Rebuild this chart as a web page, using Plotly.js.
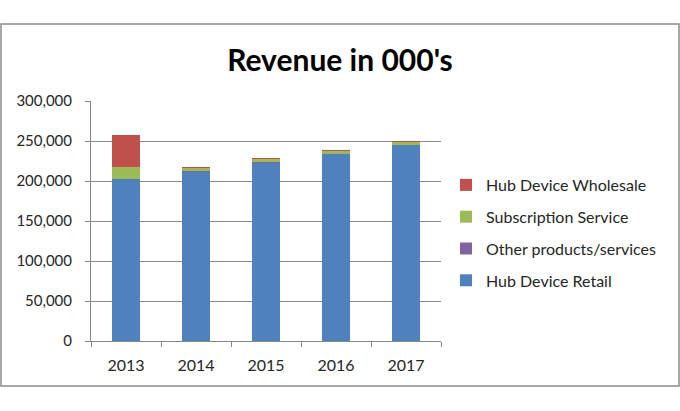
<!DOCTYPE html>
<html>
<head>
<meta charset="utf-8">
<script src="https://cdn.plot.ly/plotly-3.0.1.min.js"></script>
<style>
html,body{margin:0;padding:0;background:#fff;}
#chart{width:680px;height:411px;}
</style>
</head>
<body>
<div id="chart"></div>
<script>
const years = ['2013', '2014', '2015', '2016', '2017'];
const hubDeviceRetail = [202000, 211500, 223000, 233500, 245000];
const otherProducts = [500, 500, 500, 500, 500];
const subscriptionService = [15500, 4500, 4000, 4000, 3500];
const hubDeviceWholesale = [40000, 1500, 1500, 1000, 1000];
const seriesNames = ['Hub Device Retail', 'Other products/services', 'Subscription Service', 'Hub Device Wholesale'];
const seriesColors = ['#4F81BD', '#8064A2', '#9BBB59', '#C0504D'];
const seriesValues = [hubDeviceRetail, otherProducts, subscriptionService, hubDeviceWholesale];

const FONT = 'Lato, "Open Sans", sans-serif';

const traces = seriesValues.map((vals, i) => ({
  type: 'bar',
  x: years,
  y: vals,
  name: seriesNames[i],
  legendgroup: 'g' + i,
  legendrank: 1000 - i,
  marker: {color: seriesColors[i], line: {width: 0}},
  hoverinfo: 'skip'
}));

const L = 91, R = 441, T = 101, B = 341;
const px = v => (v - L) / (R - L);
const py = v => (B - v) / (B - T);

const layout = {
  width: 680,
  height: 411,
  margin: {l: L, r: 680 - R, t: T, b: 411 - B},
  paper_bgcolor: '#ffffff',
  plot_bgcolor: '#ffffff',
  barmode: 'stack',
  bargap: 0.6,
  font: {family: FONT, size: 14, color: '#262626'},
  title: {
    text: "Revenue in 000's",
    font: {family: FONT, size: 30, color: '#000000', weight: 'bold'},
    x: 0.5, xref: 'container', xanchor: 'center',
    y: 1 - 60 / 411, yref: 'container', yanchor: 'middle'
  },
  xaxis: {
    type: 'category',
    showgrid: false,
    showline: true,
    linecolor: '#868686',
    linewidth: 1,
    ticks: 'outside',
    tickson: 'boundaries',
    ticklen: 5,
    tickcolor: '#868686',
    tickfont: {family: FONT, size: 16, color: '#262626'},
    ticklabelstandoff: 10,
    fixedrange: true
  },
  yaxis: {
    range: [0, 300000],
    dtick: 50000,
    tickformat: ',',
    showgrid: true,
    gridcolor: '#8c8c8c',
    gridwidth: 1,
    showline: true,
    linecolor: '#868686',
    linewidth: 1,
    ticks: 'outside',
    ticklen: 5,
    tickcolor: '#868686',
    tickfont: {family: FONT, size: 15, color: '#262626'},
    ticklabelstandoff: 10,
    zeroline: false,
    fixedrange: true
  },
  legend: {
    x: px(446), xanchor: 'left',
    y: py(233), yanchor: 'middle',
    traceorder: 'grouped',
    tracegroupgap: 8,
    font: {family: FONT, size: 16, color: '#262626'},
    bgcolor: 'rgba(0,0,0,0)',
    borderwidth: 0
  },
  shapes: [{
    type: 'rect', xref: 'paper', yref: 'paper',
    x0: px(1), x1: px(679), y0: py(386), y1: py(24),
    line: {color: '#8c8c8c', width: 1.5},
    fillcolor: 'rgba(0,0,0,0)',
    layer: 'below'
  }]
};

Plotly.newPlot('chart', traces, layout, {displayModeBar: false, staticPlot: true});
</script>
</body>
</html>
